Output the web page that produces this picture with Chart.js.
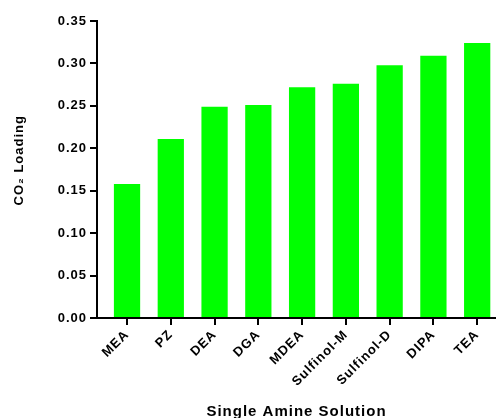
<!DOCTYPE html>
<html>
<head>
<meta charset="utf-8">
<script src="https://cdn.jsdelivr.net/npm/chart.js@4/dist/chart.umd.min.js"></script>
<style>
  html, body { margin: 0; padding: 0; background: #fff; overflow: hidden; }
  canvas { display: block; }
</style>
</head>
<body>
<canvas id="c" width="496" height="418"></canvas>
<script>
const categories = ['MEA', 'PZ', 'DEA', 'DGA', 'MDEA', 'Sulfinol-M', 'Sulfinol-D', 'DIPA', 'TEA'];
const co2Loading = [0.158, 0.211, 0.249, 0.251, 0.272, 0.276, 0.298, 0.309, 0.324];
const yTickValues = [0, 0.05, 0.10, 0.15, 0.20, 0.25, 0.30, 0.35];

const spacing = {
  id: 'spacing',
  beforeLayout(chart) { chart.ctx.letterSpacing = '1px'; },
  beforeDraw(chart) { chart.ctx.letterSpacing = '1px'; }
};

const FONT = "'Liberation Sans', Arial, Helvetica, sans-serif";

new Chart(document.getElementById('c'), {
  type: 'bar',
  data: {
    datasets: [{
      data: categories.map((c, i) => ({ x: i, y: co2Loading[i] })),
      backgroundColor: '#00ff00',
      borderWidth: 0,
      barPercentage: 0.6,
      categoryPercentage: 1.0
    }]
  },
  plugins: [spacing],
  options: {
    responsive: false,
    animation: false,
    layout: { padding: { top: 21, right: 0, bottom: 0, left: 0 } },
    plugins: { legend: { display: false }, tooltip: { enabled: false } },
    scales: {
      x: {
        type: 'linear',
        offset: false,
        min: -0.686,
        max: 8.43,
        afterBuildTicks(scale) { scale.ticks = categories.map((c, i) => ({ value: i })); },
        afterFit(scale) { scale.height = 100; },
        border: { display: true, color: '#000', width: 2 },
        grid: { display: true, offset: false, drawOnChartArea: false, drawTicks: true, tickLength: 7, color: '#000', lineWidth: 2 },
        ticks: {
          autoSkip: false,
          includeBounds: false,
          minRotation: 45,
          maxRotation: 45,
          padding: 2,
          color: '#000',
          font: { family: FONT, size: 13, weight: 'bold' },
          callback: (v) => categories[v]
        },
        title: {
          display: true,
          text: 'Single Amine Solution',
          color: '#000',
          font: { family: FONT, size: 15, weight: 'bold' },
          padding: { top: 0, bottom: -3 }
        }
      },
      y: {
        min: 0,
        max: 0.35,
        afterBuildTicks(scale) { scale.ticks = yTickValues.map(v => ({ value: v })); },
        afterFit(scale) { scale.width = 97; },
        border: { display: true, color: '#000', width: 2 },
        grid: { display: true, drawOnChartArea: false, drawTicks: true, tickLength: 7, color: '#000', lineWidth: 2 },
        ticks: {
          padding: 3,
          color: '#000',
          font: { family: FONT, size: 13, weight: 'bold' },
          callback: (v) => Number(v).toFixed(2)
        },
        title: {
          display: true,
          text: '    CO\u2082 Loading',
          color: '#000',
          font: { family: FONT, size: 13, weight: 'bold' },
          padding: { top: 12, bottom: 0 }
        }
      }
    }
  }
});
</script>
</body>
</html>
